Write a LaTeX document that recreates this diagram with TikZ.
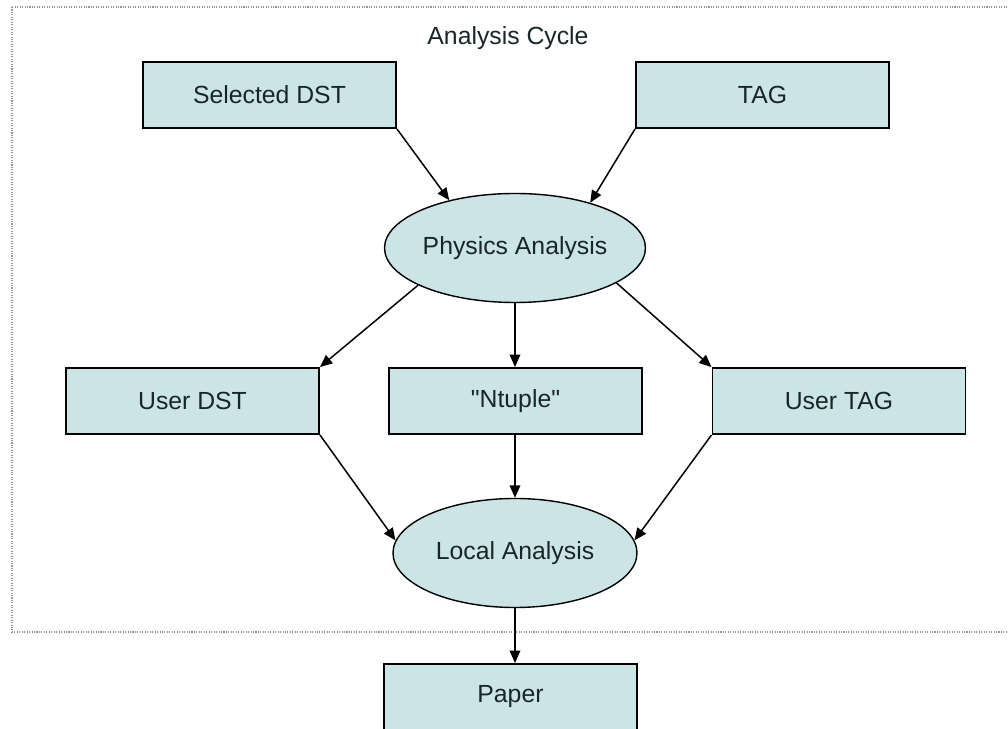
\documentclass[tikz,border=0pt]{standalone}
\usepackage{fontspec}
\setmainfont{Liberation Sans}
\newfontfamily\plainsans{Liberation Sans}
\usetikzlibrary{shapes.geometric,arrows.meta}
\definecolor{boxfill}{RGB}{203,229,231}
\definecolor{frame}{RGB}{150,150,150}
\definecolor{txt}{RGB}{25,38,40}
\begin{document}
\begin{tikzpicture}[scale=0.2]
\tikzstyle{every node}+=[inner sep=0pt, font=\fontsize{14.1}{16}\selectfont, text=txt]
\tikzstyle{stage}=[draw=black, line width=1.1pt, fill=boxfill, rectangle, minimum width=5.06cm, minimum height=1.32cm]
\tikzstyle{task}=[draw=black, line width=0.8pt, fill=boxfill, ellipse, minimum width=4.88cm, minimum height=2.18cm]
\tikzstyle{link}=[draw=black, line width=0.85pt, -{Triangle[length=7pt,width=6pt]}]
\useasboundingbox (0,0) rectangle (100.8,-72.9);
\draw [frame, line width=0.6pt, dash pattern=on 0.6pt off 0.8pt] (1.2,-0.7) rectangle (102,-63.2);
\node (title) at (50.8,-3.8) {Analysis Cycle};
\node [stage] (seldst) at (26.95,-9.5) {Selected DST};
\node [stage] (tag) at (76.25,-9.5) {TAG};
\node [task] (phys) at (51.5,-24.8) {Physics Analysis};
\node [stage] (userdst) at (19.25,-40.1) {User DST};
\node [stage] (ntuple) at (51.55,-40.1) {\plainsans "Ntuple"};
\node [stage] (usertag) at (83.9,-40.1) {User TAG};
\node [task] (local) at (51.5,-55.3) {Local Analysis};
\node [stage] (paper) at (51.05,-69.7) {Paper};
\draw [link] (seldst.south east) -- (phys.144);
\draw [link] (tag.south west) -- (phys.31);
\draw [link] (phys.201) -- (userdst.north east);
\draw [link] (phys.south) -- (ntuple.north -| phys.south);
\draw [link] (phys.-19) -- (usertag.north west);
\draw [link] (userdst.south east) -- (local.174);
\draw [link] (ntuple.south -| local.north) -- (local.north);
\draw [link] (usertag.south west) -- (local.6);
\draw [link] (local.south) -- (paper.north -| local.south);
\end{tikzpicture}
\end{document}
